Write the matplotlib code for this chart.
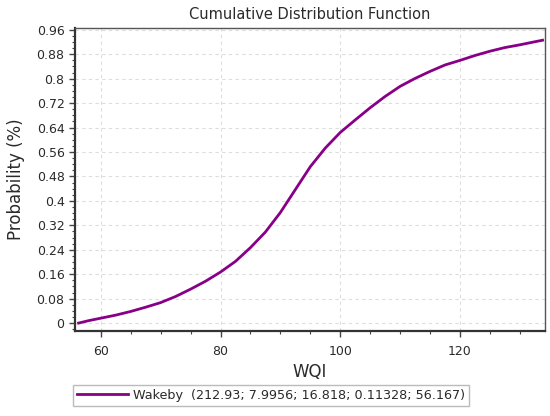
import matplotlib
matplotlib.use("Agg")
import matplotlib.pyplot as plt
from matplotlib.ticker import MultipleLocator

# Data
wqi = [56.3, 58.0, 60.0, 62.5, 65.0, 67.5, 70.0, 72.5, 75.0, 77.5, 80.0,
       82.5, 85.0, 87.5, 90.0, 92.5, 95.0, 97.5, 100.0, 102.5, 105.0,
       107.5, 110.0, 112.5, 115.0, 117.5, 120.0, 122.5, 125.0, 127.5,
       130.0, 132.5, 133.8]
prob = [0.0, 0.008, 0.016, 0.026, 0.038, 0.052, 0.067, 0.087, 0.111, 0.137, 0.167,
        0.202, 0.247, 0.298, 0.362, 0.437, 0.512, 0.573, 0.624, 0.665, 0.705,
        0.742, 0.775, 0.801, 0.824, 0.845, 0.860, 0.876, 0.890, 0.902,
        0.911, 0.921, 0.926]
yticks = [0, 0.08, 0.16, 0.24, 0.32, 0.4, 0.48, 0.56, 0.64, 0.72, 0.8, 0.88, 0.96]
ytick_labels = ["0", "0.08", "0.16", "0.24", "0.32", "0.4", "0.48", "0.56",
                "0.64", "0.72", "0.8", "0.88", "0.96"]
xticks = [60, 80, 100, 120]
legend_label = "Wakeby  (212.93; 7.9956; 16.818; 0.11328; 56.167)"

plt.rcParams['font.family'] = ['DejaVu Sans']
txt = '#2a2a2a'

fig = plt.figure(figsize=(5.5, 4.16), dpi=100)
ax = fig.add_axes([0.1364, 0.2043, 0.8545, 0.7291])

line, = ax.plot(wqi, prob, color='#880088', lw=2.0, label=legend_label)

ax.set_xlim(55.7, 134.2)
ax.set_ylim(-0.026, 0.967)
ax.set_xticks(xticks)
ax.set_yticks(yticks)
ax.set_yticklabels(ytick_labels)
ax.xaxis.set_minor_locator(MultipleLocator(5))
ax.yaxis.set_minor_locator(MultipleLocator(0.02))

ax.tick_params(axis='both', which='major', direction='out', length=4, width=1,
               colors='#444444', labelcolor=txt, labelsize=9)
ax.tick_params(axis='both', which='minor', direction='out', length=2, width=0.8,
               colors='#444444')
ax.tick_params(axis='x', pad=6)

for s in ['left', 'bottom']:
    ax.spines[s].set_linewidth(1.6)
    ax.spines[s].set_color('#333333')
for s in ['top', 'right']:
    ax.spines[s].set_linewidth(1.0)
    ax.spines[s].set_color('#555555')

ax.grid(True, which='major', color='#dddddd', linestyle=(0, (3, 3)), lw=0.8)
ax.set_axisbelow(True)

ax.set_title("Cumulative Distribution Function", fontsize=10.5, color=txt, pad=6)
ax.set_xlabel("WQI", fontsize=12, color=txt, labelpad=4)
ax.set_ylabel("Probability (%)", fontsize=12, color=txt, labelpad=8)

leg = fig.legend(handles=[line], loc='lower left', bbox_to_anchor=(0.133, 0.025),
                 frameon=True, fancybox=False, fontsize=9.2, handlelength=4.0,
                 borderpad=0.3, handletextpad=0.4, borderaxespad=0)
leg.get_frame().set_edgecolor('#aaaaaa')
leg.get_frame().set_linewidth(1.0)
for t in leg.get_texts():
    t.set_color(txt)

fig.savefig("out.png", dpi=100)
